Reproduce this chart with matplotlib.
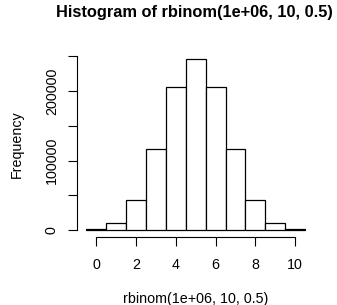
import matplotlib
matplotlib.use('Agg')
import matplotlib.pyplot as plt
import numpy as np

plt.rcParams['font.family'] = ['Liberation Sans', 'DejaVu Sans']

# Counts (bins centred on 0..10)
values = [0, 1, 2, 3, 4, 5, 6, 7, 8, 9, 10]
counts = [977, 9766, 43945, 117188, 205078, 246094, 205078, 117188, 43945, 9766, 977]
xticks = [0, 2, 4, 6, 8, 10]
yticks = [0, 50000, 100000, 150000, 200000, 250000]
ylabels = ['0', '', '100000', '', '200000', '']

fig = plt.figure(figsize=(3.37, 3.05), dpi=100)
ax = fig.add_axes([77.3 / 337, (305 - 237) / 305, (314 - 77.3) / 337, (237 - 52) / 305])

ax.bar(values, counts, width=1.0, color='white', edgecolor='black', linewidth=0.9)

ax.set_xlim(-0.94, 10.94)
ax.set_ylim(-9844, 255938)

for s in ['top', 'right']:
    ax.spines[s].set_visible(False)
ax.spines['bottom'].set_bounds(0, 10)
ax.spines['left'].set_bounds(0, 250000)
ax.spines['bottom'].set_linewidth(0.8)
ax.spines['left'].set_linewidth(0.8)

ax.set_xticks(xticks)
ax.set_xticklabels([str(t) for t in xticks], fontsize=10.3)
ax.set_yticks(yticks)
ax.set_yticklabels(ylabels, fontsize=10.3, rotation=90, va='center')
ax.tick_params(axis='x', direction='out', length=6.3, width=0.8, pad=8.5)
ax.tick_params(axis='y', direction='out', length=6.3, width=0.8, pad=7)

ax.set_xlabel('rbinom(1e+06, 10, 0.5)', fontsize=10.3, labelpad=15)
ax.set_ylabel('Frequency', fontsize=10.3, labelpad=15)
fig.text(194 / 337, 1 - 13 / 305, 'Histogram of rbinom(1e+06, 10, 0.5)',
         fontsize=11.8, fontweight='bold', ha='center', va='center')

fig.savefig('out.png', dpi=100)
